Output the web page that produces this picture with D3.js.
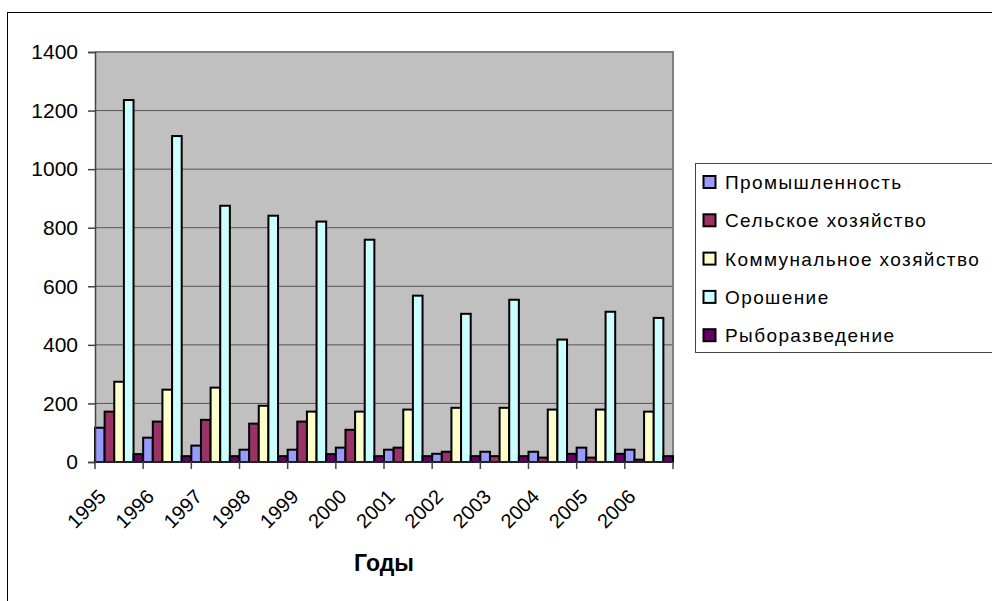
<!DOCTYPE html>
<html>
<head>
<meta charset="utf-8">
<script src="https://cdn.jsdelivr.net/npm/d3@7"></script>
<style>
  body { margin: 0; background: #fff; }
  svg { display: block; font-family: "Liberation Sans", Arial, sans-serif; }
</style>
</head>
<body>
<svg id="chart" width="992" height="601"></svg>
<script>
// data
var years = ["1995","1996","1997","1998","1999","2000","2001","2002","2003","2004","2005","2006"];
var seriesNames = ["Промышленность", "Сельское хозяйство", "Коммунальное хозяйство", "Орошение", "Рыборазведение"];
var industry   = [117, 83, 56, 42, 42, 49, 42, 28, 35, 35, 49, 42];
var farming    = [172, 138, 144, 131, 138, 110, 49, 35, 20, 15, 15, 8];
var communal   = [274, 247, 254, 192, 172, 172, 179, 185, 185, 179, 179, 172];
var irrigation = [1236, 1113, 875, 841, 821, 759, 568, 506, 554, 418, 513, 492];
var fishery    = [27, 20, 20, 20, 27, 20, 20, 20, 20, 28, 28, 20];
var yTicks = [0, 200, 400, 600, 800, 1000, 1200, 1400];
var colors = ["#9999FF", "#993366", "#FFFFCC", "#CCFFFF", "#660066"];

var allSeries = [industry, farming, communal, irrigation, fishery];

var svg = d3.select("#chart");
const plotLeft = 95, plotRight = 673, plotTop = 52, plotBottom = 462;

// outer chart frame (runs off the right and bottom edges)
svg.append("rect")
    .attr("x", 7.5).attr("y", 12.5)
    .attr("width", 1000).attr("height", 700)
    .attr("fill", "none").attr("stroke", "#000").attr("stroke-width", 1);

var x = d3.scaleBand().domain(years).range([plotLeft, plotRight]).padding(0);
var xs = d3.scaleBand().domain(d3.range(seriesNames.length)).range([0, x.bandwidth()]).padding(0);
var y = d3.scaleLinear().domain([0, 1400]).range([plotBottom, plotTop]);

// plot background
svg.append("rect")
    .attr("x", plotLeft).attr("y", plotTop)
    .attr("width", plotRight - plotLeft).attr("height", plotBottom - plotTop)
    .attr("fill", "#C0C0C0");

// grid lines
svg.selectAll(".grid")
    .data(yTicks.filter(d => d > 0 && d < 1400))
    .enter().append("line")
    .attr("x1", plotLeft).attr("x2", plotRight)
    .attr("y1", d => y(d)).attr("y2", d => y(d))
    .attr("stroke", "#555").attr("stroke-width", 1);

// plot border top and right
svg.append("path")
    .attr("d", `M${plotLeft},${plotTop}H${plotRight}V${plotBottom}`)
    .attr("fill", "none").attr("stroke", "#808080").attr("stroke-width", 2);

// bars
var rows = [];
years.forEach(function(yr, i) {
    allSeries.forEach(function(s, j) {
        rows.push({ year: yr, s: j, v: s[i] });
    });
});
svg.selectAll(".bar")
    .data(rows)
    .enter().append("rect")
    .attr("class", "bar")
    .attr("x", d => x(d.year) + xs(d.s))
    .attr("y", d => y(d.v))
    .attr("width", xs.bandwidth())
    .attr("height", d => y(0) - y(d.v))
    .attr("fill", d => colors[d.s])
    .attr("stroke", "#000")
    .attr("stroke-width", 2);

// y axis
var yAxis = svg.append("g")
    .attr("transform", `translate(${plotLeft},0)`)
    .call(d3.axisLeft(y).tickValues(yTicks).tickSize(7).tickPadding(10).tickFormat(d3.format("d")));
yAxis.select(".domain").attr("stroke", "#444").attr("stroke-width", 1.5);
yAxis.selectAll(".tick line").attr("stroke", "#444").attr("stroke-width", 1.5);
yAxis.selectAll(".tick text").attr("font-size", 21).attr("fill", "#000")
    .attr("font-family", "Liberation Sans, Arial, sans-serif");

// x axis baseline and boundary ticks
svg.append("line")
    .attr("x1", plotLeft).attr("x2", plotRight)
    .attr("y1", plotBottom).attr("y2", plotBottom)
    .attr("stroke", "#222").attr("stroke-width", 2);
var bounds = years.map(d => x(d)).concat([x(years[years.length - 1]) + x.bandwidth()]);
svg.selectAll(".xtick")
    .data(bounds)
    .enter().append("line")
    .attr("x1", d => d).attr("x2", d => d)
    .attr("y1", plotBottom).attr("y2", plotBottom + 7)
    .attr("stroke", "#444").attr("stroke-width", 1.5);

svg.selectAll(".xlabel")
    .data(years)
    .enter().append("text")
    .attr("transform", d => `translate(${x(d) + x.bandwidth() / 2 - 12},${plotBottom + 36}) rotate(-45)`)
    .attr("text-anchor", "end")
    .attr("font-size", 20)
    .text(d => d);

// axis title
svg.append("text")
    .attr("x", 384).attr("y", 571)
    .attr("text-anchor", "middle")
    .attr("font-size", 23).attr("font-weight", "bold")
    .text("Годы");

// legend
var legend = svg.append("g");
legend.append("rect")
    .attr("x", 695.5).attr("y", 163.5)
    .attr("width", 400).attr("height", 189)
    .attr("fill", "#fff").attr("stroke", "#444").attr("stroke-width", 1);
var items = legend.selectAll(".item")
    .data(seriesNames)
    .enter().append("g")
    .attr("transform", (d, i) => `translate(703,${182 + i * 38.3})`);
items.append("rect")
    .attr("x", 0.5).attr("y", -6)
    .attr("width", 12).attr("height", 12)
    .attr("fill", (d, i) => colors[i])
    .attr("stroke", "#000").attr("stroke-width", 2);
items.append("text")
    .attr("x", 22).attr("y", 7)
    .attr("font-size", 19)
    .attr("letter-spacing", 1.4)
    .text(d => d);
</script>
</body>
</html>
